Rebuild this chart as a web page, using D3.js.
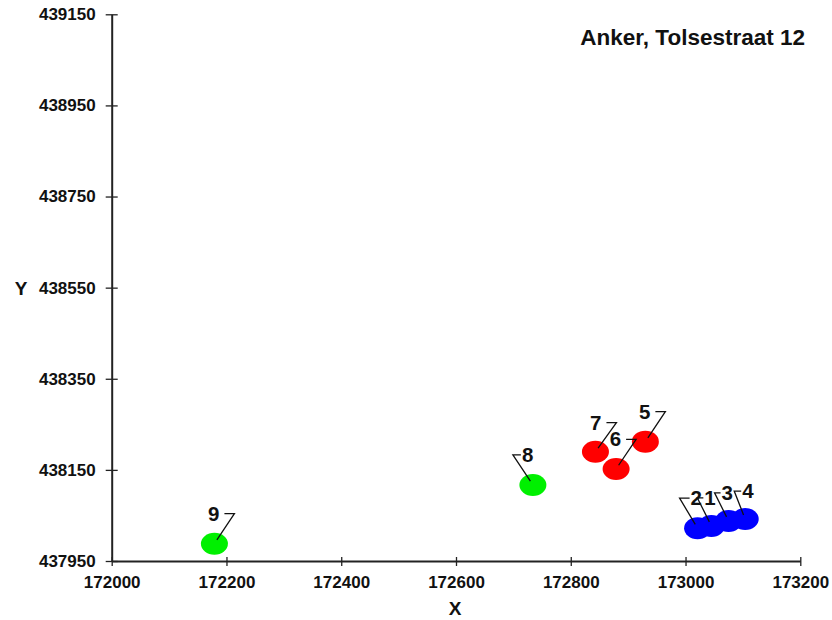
<!DOCTYPE html>
<html>
<head>
<meta charset="utf-8">
<script src="https://cdn.jsdelivr.net/npm/d3@7/dist/d3.min.js"></script>
<style>
  html, body { margin: 0; padding: 0; background: #fff; }
  svg { display: block; }
  text { font-family: "Liberation Sans", Arial, sans-serif; font-weight: bold; fill: #111; }
</style>
</head>
<body>
<svg id="chart" width="832" height="620"></svg>
<script>
// ---- data ----
const title = "Anker, Tolsestraat 12";
const pointIds = ["1", "2", "3", "4", "5", "6", "7", "8", "9"];
const xValues = [173045, 173021, 173075, 173104, 172930, 172879, 172843, 172734, 172179];
const yValues = [438027, 438022, 438038, 438042, 438212, 438152, 438190, 438117, 437988];
const groups  = ["A", "A", "A", "A", "B", "B", "B", "C", "C"];
const groupNames = ["A", "B", "C"];
const groupColors = ["#0000ff", "#ff0000", "#00f000"];
const xTicks = [172000, 172200, 172400, 172600, 172800, 173000, 173200];
const yTicks = [437950, 438150, 438350, 438550, 438750, 438950, 439150];
const xLabel = "X";
const yLabel = "Y";

// ---- label layout (elbow offset from point, side of text, horizontal length) ----
const labelLayout = [
  [-14, -28, "right", 6],
  [-18, -30, "right", 10],
  [-14, -28, "right", 6],
  [-11, -28, "right", 7],
  [20, -30, "left", 10],
  [20, -29.5, "left", 10],
  [21, -29, "left", 10],
  [-20, -30, "right", 8],
  [20, -30, "left", 10]
];

const W = 832, H = 620;
const margin = { left: 111.7, top: 14.3, right: 31.7, bottom: 59 };
const svg = d3.select("#chart");
svg.append("rect").attr("width", W).attr("height", H).attr("fill", "#fff");

const x = d3.scaleLinear().domain([xTicks[0], xTicks[xTicks.length - 1]])
  .range([margin.left, W - margin.right]);
const y = d3.scaleLinear().domain([yTicks[0], yTicks[yTicks.length - 1]])
  .range([H - margin.bottom, margin.top]);
const color = d3.scaleOrdinal().domain(groupNames).range(groupColors);

// axes
const xAxis = d3.axisBottom(x).tickValues(xTicks).tickFormat(d3.format("d"))
  .tickSizeInner(5).tickSizeOuter(0).tickPadding(10);
const yAxis = d3.axisLeft(y).tickValues(yTicks).tickFormat(d3.format("d"))
  .tickSizeInner(6).tickSizeOuter(0).tickPadding(10);

const gx = svg.append("g").attr("transform", `translate(0,${H - margin.bottom})`).call(xAxis);
const gy = svg.append("g").attr("transform", `translate(${margin.left},0)`).call(yAxis);

[gx, gy].forEach(g => {
  g.select(".domain").attr("stroke", "#222").attr("stroke-width", 2);
  g.selectAll(".tick line").attr("stroke", "#222").attr("stroke-width", 1.3);
  g.selectAll(".tick text").style("font-size", "17px").style("font-family", "'Liberation Sans', Arial, sans-serif")
    .style("font-weight", "bold").attr("fill", "#111");
});
gx.selectAll(".tick line").attr("y1", -4).attr("y2", 5);
gy.selectAll(".tick line").attr("x1", -6).attr("x2", 6);

// axis titles
svg.append("text").attr("x", 455).attr("y", 615).attr("text-anchor", "middle")
  .style("font-size", "19px").text(xLabel);
svg.append("text").attr("x", 21).attr("y", 295).attr("text-anchor", "middle")
  .style("font-size", "19px").text(yLabel);

// chart title
svg.append("text").attr("x", 805).attr("y", 45).attr("text-anchor", "end")
  .style("font-size", "22.5px").text(title);

// points
const pts = pointIds.map((id, i) => ({ id, xv: xValues[i], yv: yValues[i], g: groups[i], lay: labelLayout[i] }));

svg.append("g").selectAll("ellipse").data(pts).join("ellipse")
  .attr("cx", d => x(d.xv)).attr("cy", d => y(d.yv))
  .attr("rx", 13.5).attr("ry", 11)
  .attr("fill", d => color(d.g));

// labels with leader lines
const lg = svg.append("g");
pts.forEach(d => {
  const cx = x(d.xv), cy = y(d.yv);
  const [dx, dy, side, hl] = d.lay;
  const ex = cx + dx, ey = cy + dy;
  const len = Math.hypot(dx, dy);
  const endX = cx + dx / len * 4.5, endY = cy + dy / len * 4.5;
  const hx = side === "left" ? ex - hl : ex + hl;
  lg.append("path")
    .attr("d", `M${endX},${endY}L${ex},${ey}L${hx},${ey}`)
    .attr("fill", "none").attr("stroke", "#111").attr("stroke-width", 1.3);
  lg.append("text")
    .attr("x", side === "left" ? hx - 5 : hx + 1)
    .attr("y", ey + 7)
    .attr("text-anchor", side === "left" ? "end" : "start")
    .style("font-size", "20.5px")
    .text(d.id);
});
</script>
</body>
</html>
